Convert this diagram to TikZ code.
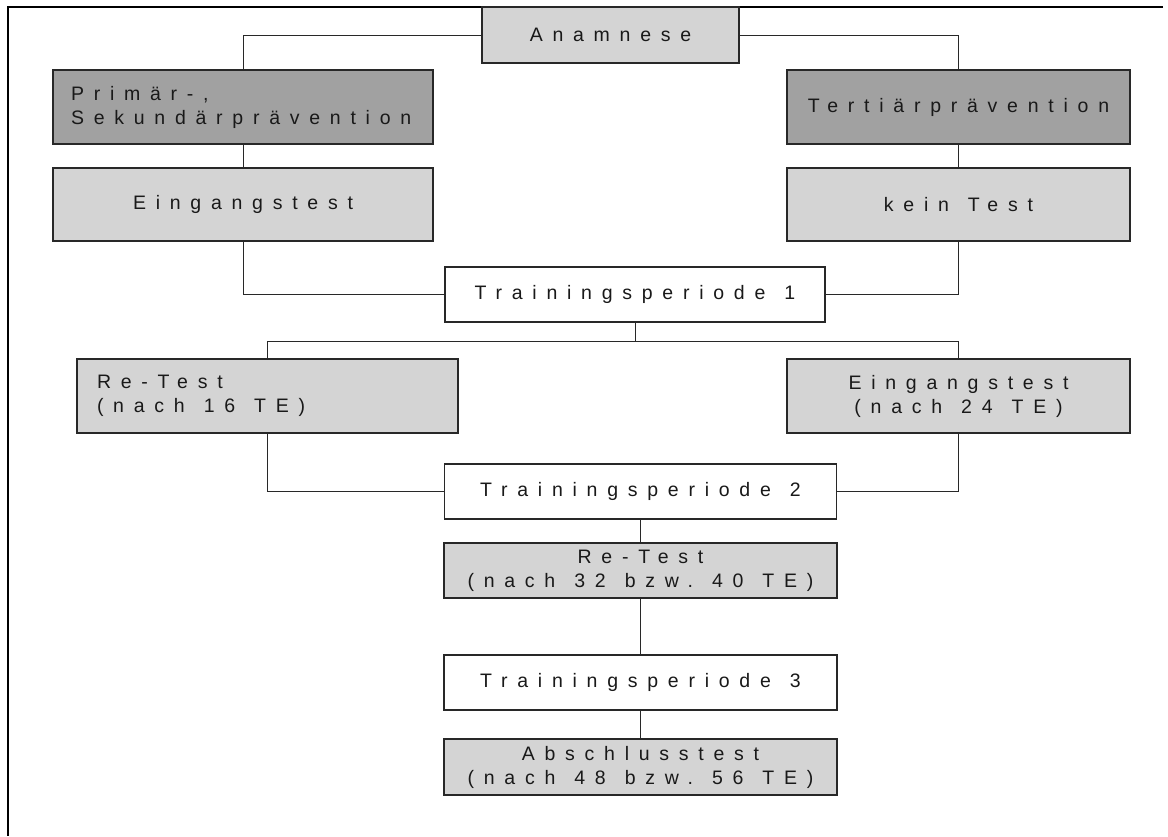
\documentclass[tikz,border=0pt]{standalone}
\usepackage{fontspec}
\newfontfamily\trk{Liberation Sans}[LetterSpace=50]
\newcommand{\labfont}{\trk\fontsize{19.5}{24}\selectfont}
\newcommand{\wsp}{\hspace{19pt}}
\definecolor{darkfill}{RGB}{161,161,161}
\definecolor{lightfill}{RGB}{212,212,212}
\definecolor{edge}{RGB}{40,40,40}
\definecolor{ink}{RGB}{25,25,25}
\tikzset{
  lab/.style={font=\labfont, text=ink},
  basebox/.style={draw=edge, line width=1.2pt, inner sep=0pt, lab},
  darkbox/.style={basebox, fill=darkfill},
  lightbox/.style={basebox, fill=lightfill},
  whitebox/.style={basebox, fill=white},
  conn/.style={draw=edge, line width=1pt}
}
\begin{document}
\begin{tikzpicture}[x=1pt,y=-1pt]
\useasboundingbox (0,0) rectangle (1168,836);
\fill[white] (0,0) rectangle (1168,836);
% frame
\draw[black, line width=1.5pt] (1163,7) -- (8,7) -- (8,836);

% nodes
\node[lightbox, minimum width=257pt, minimum height=56pt] (ana) at (610.5,35) {Anamnese};
\node[darkbox, minimum width=380pt, minimum height=74pt, text width=344pt, align=left] (prim) at (243,107) {Primär-,\\Sekundärprävention};
\node[lightbox, minimum width=380pt, minimum height=73pt] (ein1) at (243,204.5) {Eingangstest};
\node[darkbox, minimum width=343pt, minimum height=74pt] (tert) at (958.5,107) {Tertiärprävention};
\node[lightbox, minimum width=343pt, minimum height=73pt] (kein) at (958.5,204.5) {kein\wsp Test};
\node[whitebox, minimum width=380pt, minimum height=55pt] (tp1) at (635,294.5) {Trainingsperiode\wsp 1};
\node[lightbox, minimum width=381pt, minimum height=74pt, text width=341pt, align=left] (re16) at (267.5,396) {Re-Test\\(nach\wsp 16\wsp TE)};
\node[lightbox, minimum width=343pt, minimum height=74pt, align=center] (ein24) at (958.5,396) {Eingangstest\\(nach\wsp 24\wsp TE)};
\node[whitebox, minimum width=392pt, minimum height=55pt] (tp2) at (640.5,491.5) {Trainingsperiode\wsp 2};
\node[lightbox, minimum width=393pt, minimum height=55pt, align=center] (re32) at (640.5,570.5) {Re-Test\\(nach\wsp 32\wsp bzw.\wsp 40\wsp TE)};
\node[whitebox, minimum width=393pt, minimum height=55pt] (tp3) at (640.5,682.5) {Trainingsperiode\wsp 3};
\node[lightbox, minimum width=393pt, minimum height=56pt, align=center] (absch) at (640.5,767) {Abschlusstest\\(nach\wsp 48\wsp bzw.\wsp 56\wsp TE)};

\coordinate (br) at (635,341);

% connectors
\draw[conn] (ana.west) -| (prim.north);
\draw[conn] (ana.east) -| (tert.north);
\draw[conn] (prim.south) -- (ein1.north);
\draw[conn] (tert.south) -- (kein.north);
\draw[conn] (ein1.south) |- (tp1.west);
\draw[conn] (kein.south) |- (tp1.east);
\draw[conn] (tp1.south) -- (br);
\draw[conn] (br) -| (re16.north);
\draw[conn] (br) -| (ein24.north);
\draw[conn] (re16.south) |- (tp2.west);
\draw[conn] (ein24.south) |- (tp2.east);
\draw[conn] (tp2.south) -- (re32.north);
\draw[conn] (re32.south) -- (tp3.north);
\draw[conn] (tp3.south) -- (absch.north);
\end{tikzpicture}
\end{document}
